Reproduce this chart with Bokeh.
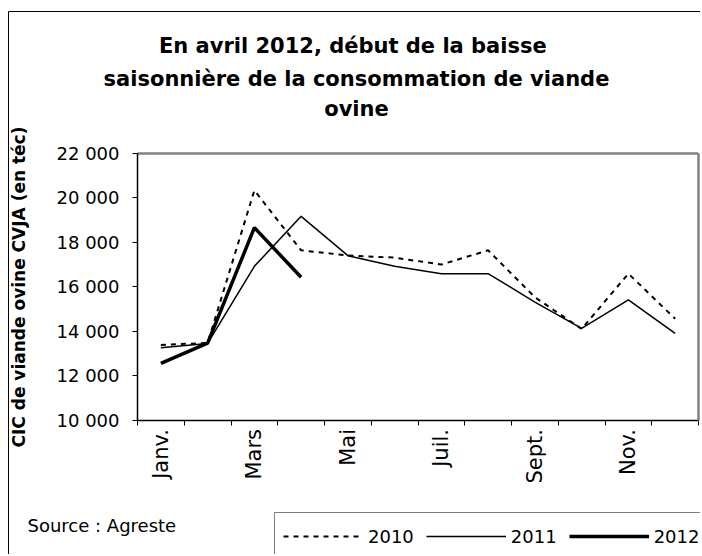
from bokeh.plotting import figure
from bokeh.models import Range1d, FixedTicker, Label, Legend, LegendItem, LinearAxis
from bokeh.embed import file_html
from bokeh.resources import INLINE
import math

# ---- data ----
months = ["Janv.", "Févr.", "Mars", "Avr.", "Mai", "Juin",
          "Juil.", "Août", "Sept.", "Oct.", "Nov.", "Déc."]
v2010 = [13380, 13470, 20340, 17640, 17410, 17310, 17000, 17640, 15530, 14100, 16590, 14560]
v2011 = [13250, 13450, 16920, 19170, 17400, 16920, 16590, 16590, 15310, 14130, 15410, 13900]
v2012 = [12550, 13460, 18660, 16430]
y_ticks = [10000, 12000, 14000, 16000, 18000, 20000, 22000]
y_tick_labels = ["10 000", "12 000", "14 000", "16 000", "18 000", "20 000", "22 000"]
title_lines = ["En avril 2012,  début de la baisse",
               "saisonnière de la consommation de viande",
               "ovine"]
y_title = "CIC de viande ovine CVJA (en téc)"
source_text = "Source : Agreste"
series_names = ["2010", "2011", "2012"]

FONT = "DejaVu Sans"

# ---- layout (canvas pixels) ----
W, H = 700, 554
PL, PR, PT, PB = 137, 698, 153, 419.5       # plot area edges inside the canvas
FRAME_X, FRAME_Y = 7.5, 10.5                 # outer chart frame (left / top)
n = len(months)
y0, y1 = y_ticks[0], y_ticks[-1]
ppx = (PR - PL) / n
ppy = (PB - PT) / (y1 - y0)
xs, xe = 0 - PL / ppx, n + (W - PR) / ppx
ys, ye = y0 - (H - PB) / ppy, y1 + PT / ppy

x_all = [i + 0.5 for i in range(n)]

p = figure(width=W, height=H, output_backend="svg", toolbar_location=None,
           x_range=Range1d(xs, xe), y_range=Range1d(ys, ye),
           x_axis_location=None, y_axis_location=None,
           min_border=0, min_border_left=0, min_border_right=0,
           min_border_top=0, min_border_bottom=0)
p.xgrid.visible = False
p.ygrid.visible = False
p.outline_line_color = None


def plain_axis(loc, bounds, color, width):
    return LinearAxis(fixed_location=loc, bounds=bounds,
                      ticker=FixedTicker(ticks=[], minor_ticks=[]),
                      axis_line_color=color, axis_line_width=width,
                      major_tick_line_color=None, minor_tick_line_color=None,
                      major_label_text_font_size="0px")


# outer chart frame (left and top edges)
fx = xs + FRAME_X / ppx
fy = ye - FRAME_Y / ppy
p.add_layout(plain_axis(fx, (ys, fy), "black", 1), "left")
p.add_layout(plain_axis(fy, (fx, xe), "black", 1), "above")

# grey plot-area border (top and right)
p.add_layout(plain_axis(y1, (0, n), "#808080", 2.5), "above")
p.add_layout(plain_axis(n, (y0, y1), "#808080", 2.5), "right")

# x axis: labels at every other month centre, ticks between categories
lab_pos = [i + 0.5 for i in range(0, n, 2)]
xaxis = LinearAxis(fixed_location=y0, bounds=(0, n),
                   ticker=FixedTicker(ticks=lab_pos, minor_ticks=list(range(n + 1))),
                   major_label_overrides={i + 0.5: months[i] for i in range(0, n, 2)},
                   major_tick_out=0, major_tick_in=0,
                   minor_tick_out=5, minor_tick_in=0, minor_tick_line_color="black",
                   axis_line_color="black", axis_line_width=1.5,
                   major_label_orientation=math.pi / 2, major_label_standoff=4,
                   major_label_text_font=FONT, major_label_text_font_size="21px",
                   major_label_text_color="black")
p.add_layout(xaxis, "below")

yaxis = LinearAxis(fixed_location=0, bounds=(y0, y1),
                   ticker=FixedTicker(ticks=y_ticks, minor_ticks=[]),
                   major_label_overrides=dict(zip(y_ticks, y_tick_labels)),
                   major_tick_out=5, major_tick_in=0, minor_tick_out=0, minor_tick_in=0,
                   axis_line_color="black", axis_line_width=1.5, major_tick_line_color="black",
                   major_label_standoff=13, major_label_text_font=FONT,
                   major_label_text_font_size="18px", major_label_text_color="black",
                   axis_label=y_title, axis_label_text_font=FONT,
                   axis_label_text_font_style="bold", axis_label_text_font_size="17px",
                   axis_label_text_color="black", axis_label_standoff=25)
p.add_layout(yaxis, "left")

r2010 = p.line(x_all[:len(v2010)], v2010, line_color="black", line_width=2, line_dash="5 5")
r2011 = p.line(x_all[:len(v2011)], v2011, line_color="black", line_width=1.5)
r2012 = p.line(x_all[:len(v2012)], v2012, line_color="black", line_width=3.5)

legend = Legend(items=[LegendItem(label=series_names[0], renderers=[r2010]),
                       LegendItem(label=series_names[1], renderers=[r2011]),
                       LegendItem(label=series_names[2], renderers=[r2012])],
                orientation="horizontal", location=(274, -6),
                glyph_width=80, glyph_height=30, label_height=30,
                label_standoff=5, spacing=12, padding=8, margin=0,
                border_line_color="black", border_line_width=1,
                background_fill_color="white", background_fill_alpha=1,
                label_text_font=FONT, label_text_font_size="18px", label_text_color="black")
p.add_layout(legend)

# title lines (screen units: from canvas left / canvas bottom)
title_y = [H - 45, H - 78, H - 108]
for t, yy in zip(title_lines, title_y):
    p.add_layout(Label(x=356, y=yy, x_units="screen", y_units="screen", text=t,
                       text_align="center", text_baseline="middle",
                       text_font=FONT, text_font_style="bold", text_font_size="21px",
                       text_color="black"))

p.add_layout(Label(x=27, y=H - 525, x_units="screen", y_units="screen", text=source_text,
                   text_align="left", text_baseline="middle",
                   text_font=FONT, text_font_size="18px", text_color="black"))

open("out.html", "w").write(file_html(p, INLINE))
